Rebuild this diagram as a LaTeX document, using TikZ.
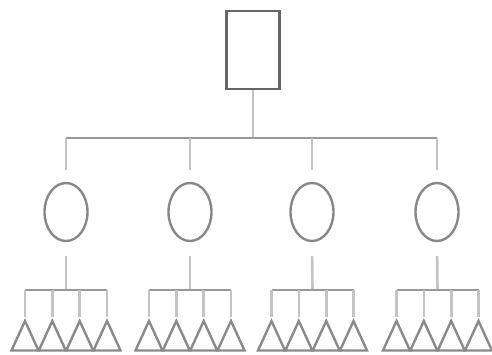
\documentclass[tikz,border=0pt]{standalone}
\usetikzlibrary{shapes.geometric}
\definecolor{rectc}{HTML}{666666}
\definecolor{ellc}{HTML}{888888}
\definecolor{hbarc}{HTML}{999999}
\definecolor{vlinec}{HTML}{C4C4C4}
\definecolor{tric}{HTML}{8A8A8A}
\tikzset{
  boxnode/.style={draw=rectc,line width=2.3pt,minimum width=53pt,minimum height=78pt,inner sep=0pt},
  ovalnode/.style={ellipse,draw=ellc,line width=2.4pt,minimum width=43pt,minimum height=58pt,inner sep=0pt},
  hbar/.style={draw=hbarc,line width=2.4pt},
  vline/.style={draw=vlinec,line width=2.6pt},
  trishape/.style={draw=tric,line width=2.4pt,line join=miter},
}
\begin{document}
\begin{tikzpicture}[x=1pt,y=-1pt]
\useasboundingbox (0,0) rectangle (492,354);
% root
\node[boxnode] (root) at (253,50) {};
\coordinate (rootbar) at (253,138);
\coordinate (barL) at (66,138);
\coordinate (barR) at (437,138);
\draw[vline] (root.south) -- (rootbar);
\draw[hbar] (barL) -- (barR);
% middle level
\foreach \i/\cx in {1/66,2/190,3/312,4/437}{
  \node[ovalnode] (m\i) at (\cx,212) {};
  \coordinate (d\i) at (\cx,138);
  \draw[vline,shorten >=12pt] (d\i) -- (m\i.north);
}
% bottom groups
\foreach \i/\cx in {1/66,2/190,3/312.5,4/437.5}{
  \coordinate (s\i) at (\cx,290);
  \draw[vline,shorten <=14pt] (m\i.south) -- (s\i);
  \coordinate (bl\i) at ({\cx-41},290);
  \coordinate (br\i) at ({\cx+41},290);
  \draw[hbar] (bl\i) -- (br\i);
  \foreach \j/\dx in {1/-41,2/-13.7,3/13.7,4/41}{
    \coordinate (t\i\j) at ({\cx+\dx},290);
    \coordinate (a\i\j) at ({\cx+\dx},321);
    \draw[vline,shorten >=4pt] (t\i\j) -- (a\i\j);
    \draw[trishape] (a\i\j) -- ++(-13.5,29.5) -- ++(27,0) -- cycle;
  }
}
\end{tikzpicture}
\end{document}
